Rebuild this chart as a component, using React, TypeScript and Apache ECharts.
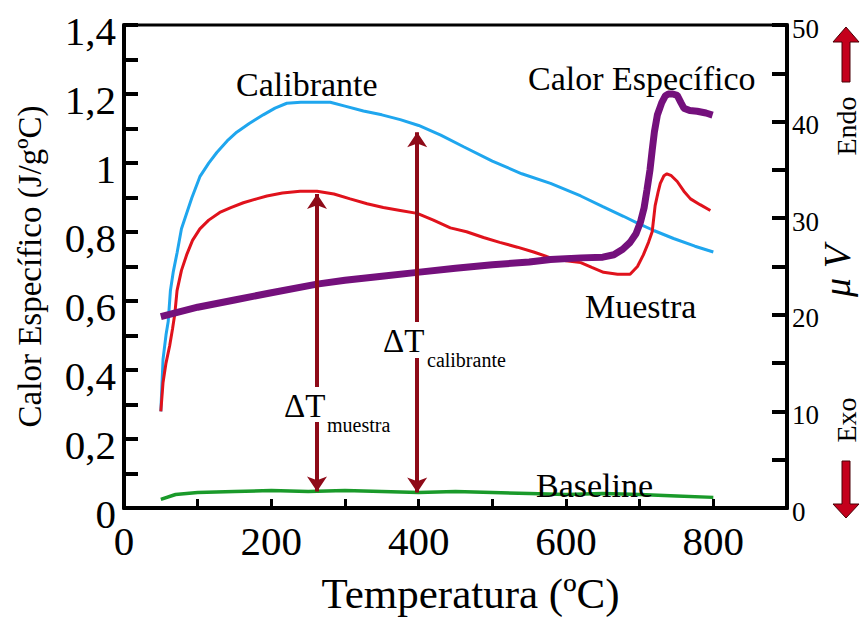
import React, { useEffect, useRef } from "react";
import * as echarts from "echarts";

const FONT = "'Liberation Serif', 'Times New Roman', serif";

// Temperatura (ºC) and signal (µV) of the calibrant run
const calibranteT = [50, 53, 57, 60, 63, 67, 72, 78, 92, 103, 115, 126, 140, 153, 170, 189, 205, 221, 240, 260, 280, 300, 325, 350, 375, 400, 430, 461, 500, 540, 579, 620, 650, 678, 697, 720, 746, 775, 800];
const calibranteUV = [10.0, 15.4, 17.9, 19.3, 22.5, 24.5, 26.4, 28.9, 32.1, 34.3, 35.7, 36.8, 38.0, 38.9, 39.8, 40.7, 41.4, 41.9, 42.0, 42.0, 42.0, 41.6, 41.1, 40.7, 40.2, 39.6, 38.6, 37.4, 35.9, 34.6, 33.6, 32.3, 31.2, 30.2, 29.5, 28.7, 27.9, 27.1, 26.5];

// Sample run (µV)
const muestraT = [50, 53, 57, 62, 66, 69, 72, 78, 85, 93, 103, 115, 130, 145, 162, 180, 194, 215, 239, 262, 285, 307, 330, 352, 375, 398, 420, 443, 465, 488, 510, 534, 556, 579, 600, 620, 635, 651, 670, 687, 697, 705, 712, 717, 721, 725, 728, 733, 737, 743, 751, 760, 769, 782, 796];
const muestraUV = [10.0, 13.0, 15.0, 16.8, 18.6, 20.1, 22.5, 24.6, 26.2, 27.7, 28.9, 29.8, 30.6, 31.1, 31.6, 32.0, 32.3, 32.6, 32.8, 32.8, 32.5, 32.0, 31.5, 31.1, 30.8, 30.5, 29.8, 29.0, 28.6, 28.0, 27.5, 27.0, 26.5, 25.9, 25.6, 25.4, 24.9, 24.4, 24.2, 24.2, 25.0, 26.2, 27.5, 28.6, 31.3, 32.7, 33.6, 34.4, 34.6, 34.4, 33.8, 32.8, 32.0, 31.4, 30.8];

// Baseline run (µV)
const baselineT = [50, 70, 100, 150, 200, 250, 300, 350, 400, 450, 500, 550, 600, 650, 700, 750, 800];
const baselineUV = [0.9, 1.4, 1.6, 1.7, 1.8, 1.7, 1.8, 1.7, 1.6, 1.7, 1.6, 1.5, 1.4, 1.5, 1.4, 1.25, 1.1];

// Calor específico (J/gºC)
const cpT = [50, 100, 150, 200, 262, 300, 350, 398, 450, 500, 550, 579, 620, 650, 665, 677, 687, 695, 701, 706, 710, 714, 717, 720, 724, 730, 735, 739, 745, 751, 756, 760, 768, 778, 790, 799];
const cpValues = [0.555, 0.582, 0.603, 0.624, 0.649, 0.66, 0.672, 0.683, 0.695, 0.705, 0.713, 0.72, 0.725, 0.727, 0.734, 0.75, 0.77, 0.795, 0.828, 0.87, 0.923, 0.98, 1.037, 1.09, 1.139, 1.175, 1.195, 1.2, 1.2, 1.196, 1.175, 1.159, 1.152, 1.15, 1.145, 1.139];

// ΔT arrows: [temperature, from µV, to µV]
const deltaMuestra = [262, 1.7, 32.5];
const deltaCalibrante = [398, 1.6, 38.9];

const xTickLabels = [0, 200, 400, 600, 800];

const zip = (a: number[], b: number[]) => a.map((v, i) => [v, b[i]]);

export default function App() {
  const ref = useRef<HTMLDivElement>(null);
  useEffect(() => {
    if (!ref.current) return;
    const chart = echarts.init(ref.current, undefined, { renderer: "svg" });
    const txt = (text: string, x: number, y: number, size: number, extra: any = {}) => ({
      type: "text",
      x,
      y,
      z: 100,
      style: {
        text,
        font: `${extra.italic ? "italic " : ""}${size}px ${FONT}`,
        fill: "#000",
        textVerticalAlign: "middle",
        verticalAlign: "middle",
        textAlign: extra.align || "left",
        align: extra.align || "left",
      },
      rotation: extra.rotation || 0,
    });
    const arrowStyle = { fill: "#c4001c", stroke: "#4a0006", lineWidth: 1 };
    chart.setOption({
      animation: false,
      grid: {
        left: 124,
        right: 74,
        top: 25,
        bottom: 101,
        show: true,
        borderColor: "#000",
        borderWidth: 3,
      },
      xAxis: {
        type: "value",
        min: 0,
        max: 900,
        interval: 100,
        name: "Temperatura (ºC)",
        nameLocation: "middle",
        nameGap: 64,
        nameTextStyle: { fontFamily: FONT, fontSize: 43, color: "#000", padding: [0, 0, 0, 30] },
        axisLine: { lineStyle: { color: "#000", width: 4 } },
        axisTick: { inside: true, length: 9, lineStyle: { color: "#000", width: 3 } },
        axisLabel: {
          fontFamily: FONT,
          fontSize: 41,
          color: "#000",
          margin: 12,
          formatter: (v: number) => (xTickLabels.includes(v) ? String(v) : ""),
        },
        splitLine: { show: false },
      },
      yAxis: [
        {
          type: "value",
          min: 0,
          max: 1.4,
          interval: 0.1,
          name: "Calor Específico (J/gºC)",
          nameLocation: "middle",
          nameGap: 78,
          nameTextStyle: { fontFamily: FONT, fontSize: 33, color: "#000" },
          axisLine: { show: true, lineStyle: { color: "#000", width: 4 } },
          axisTick: { show: true, inside: true, length: 14, lineStyle: { color: "#000", width: 4 } },
          axisLabel: {
            color: "#000",
            margin: 8,
            formatter: (v: number) => {
              const t = Math.round(v * 10);
              if (t % 2 !== 0) return "";
              const s = t % 10 === 0 ? String(t / 10) : (t / 10).toFixed(1).replace(".", ",");
              return `{l|${s}}`;
            },
            rich: {
              l: { fontFamily: FONT, fontSize: 41, color: "#000", padding: [12, 0, 0, 0] },
            },
          },
          splitLine: { show: false },
        },
        {
          type: "value",
          min: 0,
          max: 50,
          interval: 5,
          position: "right",
          axisLine: { show: true, lineStyle: { color: "#000", width: 4 } },
          axisTick: { show: true, inside: true, length: 15, lineStyle: { color: "#000", width: 4 } },
          axisLabel: {
            color: "#000",
            margin: 5,
            formatter: (v: number) => (v % 10 === 0 ? `{r|${v}}` : ""),
            rich: {
              r: { fontFamily: FONT, fontSize: 27, color: "#000", padding: [7, 0, 0, 0] },
            },
          },
          splitLine: { show: false },
        },
      ],
      series: [
        {
          name: "Calibrante",
          type: "line",
          yAxisIndex: 1,
          data: zip(calibranteT, calibranteUV),
          symbol: "none",
          lineStyle: { color: "#1fa6ee", width: 3 },
          z: 3,
        },
        {
          name: "Muestra",
          type: "line",
          yAxisIndex: 1,
          data: zip(muestraT, muestraUV),
          symbol: "none",
          lineStyle: { color: "#e0121c", width: 3 },
          z: 3,
        },
        {
          name: "Baseline",
          type: "line",
          yAxisIndex: 1,
          data: zip(baselineT, baselineUV),
          symbol: "none",
          lineStyle: { color: "#1a9a2a", width: 3.5 },
          z: 3,
          markLine: {
            silent: true,
            symbol: ["arrow", "arrow"],
            symbolSize: 15,
            label: { show: false },
            lineStyle: { color: "#8e0a18", width: 4, type: "solid" },
            z: 6,
            data: [
              [{ coord: [deltaMuestra[0], deltaMuestra[1]] }, { coord: [deltaMuestra[0], deltaMuestra[2]] }],
              [{ coord: [deltaCalibrante[0], deltaCalibrante[1]] }, { coord: [deltaCalibrante[0], deltaCalibrante[2]] }],
            ],
          },
        },
        {
          name: "Calor Específico",
          type: "line",
          yAxisIndex: 0,
          data: zip(cpT, cpValues),
          symbol: "none",
          lineStyle: { color: "#74107c", width: 7 },
          z: 4,
        },
      ],
      graphic: {
        elements: [
          { type: "rect", z: 99, shape: { x: 309, y: 387, width: 16, height: 35 }, style: { fill: "#fff" } },
          { type: "rect", z: 99, shape: { x: 409, y: 322, width: 16, height: 36 }, style: { fill: "#fff" } },
          txt("ΔT", 284, 406, 33),
          txt("muestra", 327, 425, 20),
          txt("ΔT", 383, 341, 33),
          txt("calibrante", 427, 360, 20),
          txt("Calibrante", 236, 84, 34),
          txt("Calor Específico", 528, 78, 34),
          txt("Muestra", 585, 306, 34),
          txt("Baseline", 536, 485, 34),
          txt("Endo", 846, 126, 28, { rotation: Math.PI / 2, align: "center" }),
          txt("Exo", 846, 420, 28, { rotation: Math.PI / 2, align: "center" }),
          txt("μ V", 837, 271, 38, { rotation: Math.PI / 2, align: "center", italic: true }),
          {
            type: "polygon",
            z: 100,
            shape: { points: [[842, 82], [842, 42], [833, 42], [846, 27], [859, 42], [850, 42], [850, 82]] },
            style: arrowStyle,
          },
          {
            type: "polygon",
            z: 100,
            shape: { points: [[842, 461], [842, 504], [833, 504], [846, 518], [859, 504], [850, 504], [850, 461]] },
            style: arrowStyle,
          },
        ],
      },
    });
    return () => chart.dispose();
  }, []);
  return (
    <div
      ref={ref}
      style={{ position: "fixed", left: 0, top: 0, width: 861, height: 620, background: "#fff" }}
    />
  );
}
